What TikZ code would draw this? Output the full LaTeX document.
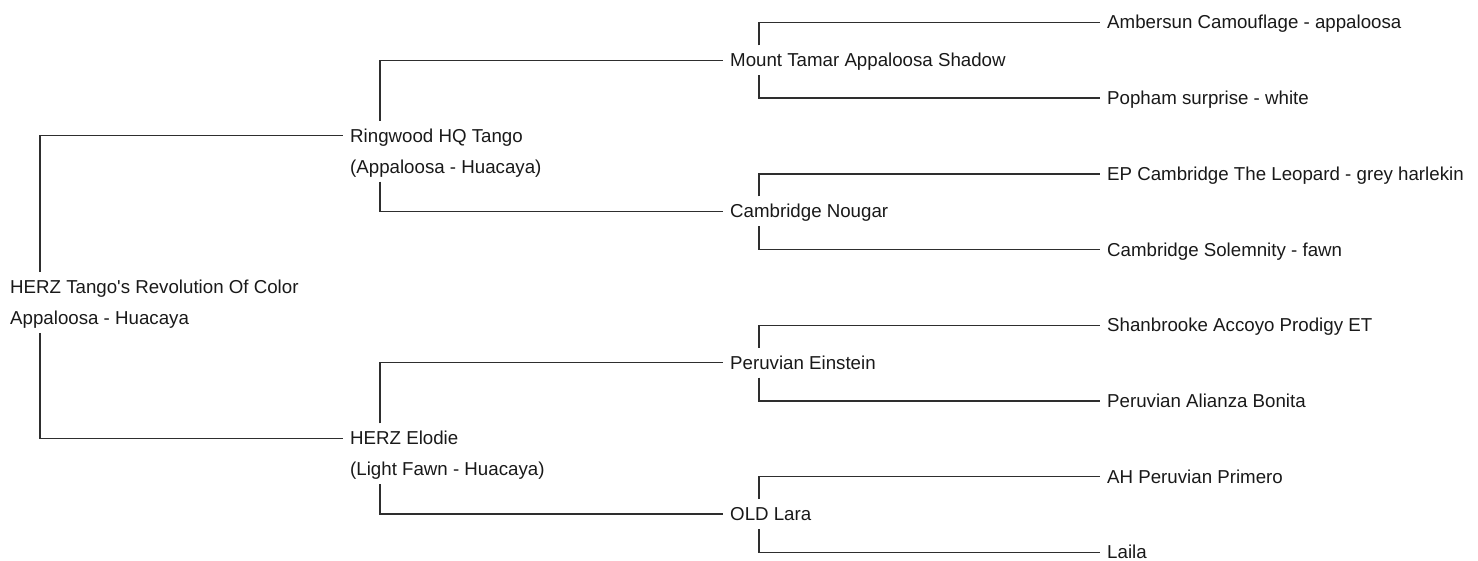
\documentclass[tikz,border=0pt]{standalone}
\usepackage{fontspec}
\setmainfont{Liberation Sans}
\newcommand{\sqt}{\XeTeXglyph\XeTeXcharglyph"0027\relax}
\begin{document}
\begin{tikzpicture}[x=1pt,y=-1pt,
  lbl/.style={anchor=base west,inner xsep=7pt,inner ysep=0pt,text height=21.2pt,text depth=8.3pt,
    font=\fontsize{18.7}{22}\selectfont,text=black!90},
  link/.style={draw=black!82,line width=1.4pt}]
\useasboundingbox (0,0) rectangle (1478,560);
% root
\node[lbl] (r) at (3,293.4) {HERZ Tango\sqt s Revolution Of Color};
\node[lbl] (r2) at (3,324.4) {Appaloosa - Huacaya};
% level 1
\node[lbl] (a) at (343,142.2) {Ringwood HQ Tango};
\node[lbl] (a2) at (343,173.2) {(Appaloosa - Huacaya)};
\node[lbl] (b) at (343,444.7) {HERZ Elodie};
\node[lbl] (b2) at (343,475.7) {(Light Fawn - Huacaya)};
% level 2
\node[lbl] (aa) at (723,66.7) {Mount Tamar Appaloosa Shadow};
\node[lbl] (ab) at (723,217.8) {Cambridge Nougar};
\node[lbl] (ba) at (723,369.2) {Peruvian Einstein};
\node[lbl] (bb) at (723,520.6) {OLD Lara};
% level 3
\node[lbl] (aaa) at (1100,28.9) {Ambersun Camouflage - appaloosa};
\node[lbl] (aab) at (1100,104.6) {Popham surprise - white};
\node[lbl] (aba) at (1100,180.3) {EP Cambridge The Leopard - grey harlekin};
\node[lbl] (abb) at (1100,256.0) {Cambridge Solemnity - fawn};
\node[lbl] (baa) at (1100,331.7) {Shanbrooke Accoyo Prodigy ET};
\node[lbl] (bab) at (1100,407.4) {Peruvian Alianza Bonita};
\node[lbl] (bba) at (1100,483.1) {AH Peruvian Primero};
\node[lbl] (bbb) at (1100,558.8) {Laila};
% connectors
\draw[link] ([xshift=37pt]r.north west) |- (a.west);
\draw[link] ([xshift=37pt]r2.south west) |- (b.west);
\draw[link] ([xshift=37pt]a.north west) |- (aa.west);
\draw[link] ([xshift=37pt]a2.south west) |- (ab.west);
\draw[link] ([xshift=37pt]b.north west) |- (ba.west);
\draw[link] ([xshift=37pt]b2.south west) |- (bb.west);
\draw[link] ([xshift=36pt]aa.north west) |- (aaa.west);
\draw[link] ([xshift=36pt]aa.south west) |- (aab.west);
\draw[link] ([xshift=36pt]ab.north west) |- (aba.west);
\draw[link] ([xshift=36pt]ab.south west) |- (abb.west);
\draw[link] ([xshift=36pt]ba.north west) |- (baa.west);
\draw[link] ([xshift=36pt]ba.south west) |- (bab.west);
\draw[link] ([xshift=36pt]bb.north west) |- (bba.west);
\draw[link] ([xshift=36pt]bb.south west) |- (bbb.west);
\end{tikzpicture}
\end{document}
